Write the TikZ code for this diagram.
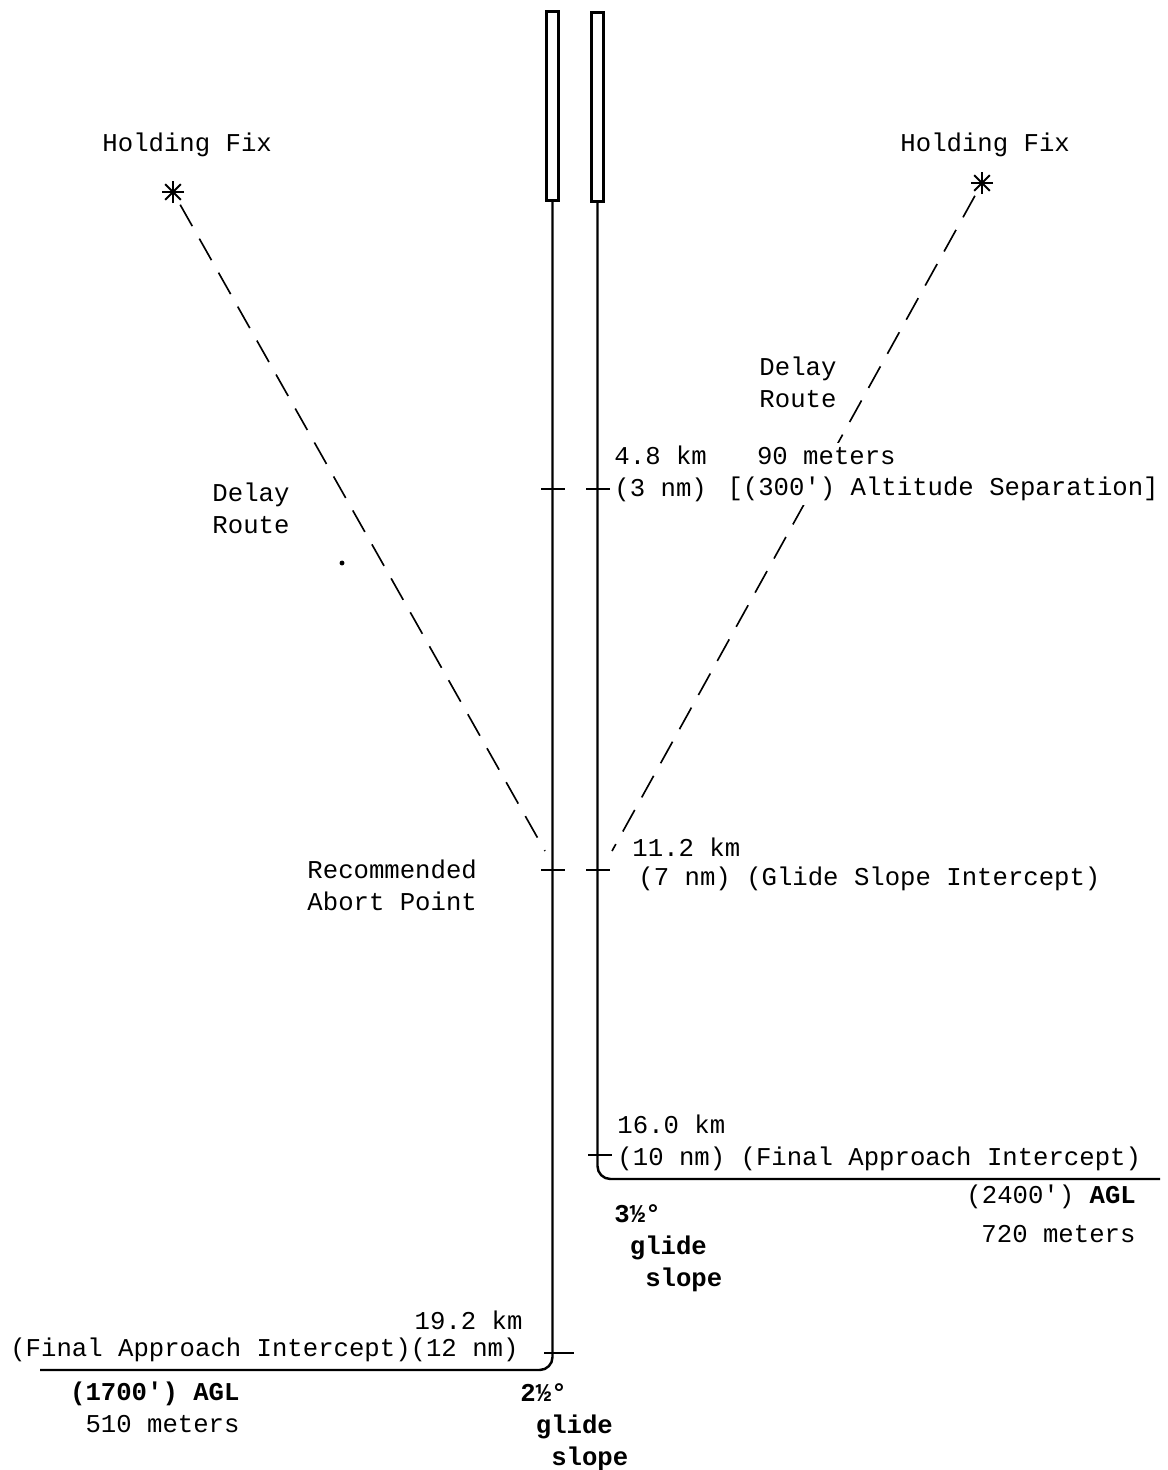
\documentclass[tikz,border=0pt]{standalone}
\usepackage{fontspec}
\setmonofont{Liberation Mono}
\usetikzlibrary{positioning}

\begin{document}
\begin{tikzpicture}[x=0.017123cm,y=-0.017123cm,font=\ttfamily\fontsize{12.5}{15.5}\selectfont]
  \tikzstyle{rwy}=[rectangle,draw,line width=1.2pt,inner sep=0pt,minimum width=0.21cm,minimum height=3.24cm]
  \tikzstyle{approach}=[line width=1.2pt,rounded corners=0.22cm]
  \tikzstyle{delay}=[line width=0.8pt,dash pattern=on 12pt off 7pt,shorten <=0.25cm]
  \tikzstyle{tick}=[line width=1pt]
  \tikzstyle{lbl}=[inner sep=1pt,anchor=west,align=left]
  \tikzstyle{mask}=[lbl,fill=white,inner sep=2pt]
  \tikzstyle{slope}=[lbl,font=\ttfamily\bfseries\fontsize{12.5}{15.5}\selectfont]
  \useasboundingbox (0,0) rectangle (1168,1470);
  % runways and approach paths
  \node[rwy] (rwyL) at (552.5,106) {};
  \node[rwy] (rwyR) at (597.5,107) {};
  \coordinate (endL) at (40,1370);
  \coordinate (endR) at (1160,1179);
  \draw[approach] (rwyL.south) |- (endL);
  \draw[approach] (rwyR.south) |- (endR);
  % distance ticks
  \foreach \y in {489,870} {
    \draw[tick] (541,\y) -- (565,\y);
    \draw[tick] (586,\y) -- (610,\y);
  }
  \draw[tick] (588,1155) -- (612,1155);
  \draw[tick] (544,1353) -- (574,1353);
  % holding fixes and delay routes
  \coordinate (fixL) at (173,192);
  \coordinate (fixR) at (982,183);
  \foreach \f in {fixL,fixR}
    \foreach \a in {0,45,90,135}
      \draw[line width=1pt] (\f) ++(\a:11) -- ++(\a+180:22);
  \coordinate (abortL) at (545,851);
  \coordinate (abortR) at (612,851);
  \draw[delay] (fixL) -- (abortL);
  \draw[delay] (fixR) -- (abortR);
  \fill (342,563) circle (1.2pt);
  % labels
  \node[lbl] (holdL) at (100,145) {Holding Fix};
  \node[lbl] (holdR) at (898,145) {Holding Fix};
  \node[lbl] (routeR) at (757,382) {Delay\\Route};
  \node[lbl] (routeL) at (210,508) {Delay\\Route};
  \node[lbl] (mark3) at (612,474) {4.8 km\\(3 nm)};
  \node[mask] (sep) at (723,474) {\hspace*{1.15em}90 meters\\{[}(300') Altitude Separation{]}};
  \node[lbl] (km7) at (630,847) {11.2 km};
  \node[lbl] (gsi) at (636,879) {(7 nm) (Glide Slope Intercept)};
  \node[lbl] (abort) at (305,885) {Recommended\\Abort Point};
  \node[lbl] (mark10) at (615,1143) {16.0 km\\(10 nm) (Final Approach Intercept)};
  \node[lbl] (agl24) at (964,1197) {(2400') \textbf{AGL}};
  \node[lbl] (m720) at (979,1234) {720 meters};
  \node[slope] (gs35) at (612,1248) {3½°\\\hspace*{0.6em}glide\\\hspace*{1.2em}slope};
  \node[lbl,anchor=east] (km19) at (525,1320) {19.2 km};
  \node[lbl,anchor=east] (fai12) at (521,1350) {(Final Approach Intercept)(12 nm)};
  \node[lbl,anchor=east,align=right] (agl17) at (242,1407) {\textbf{(1700') AGL}\\510 meters};
  \node[slope] (gs25) at (518,1427) {2½°\\\hspace*{0.6em}glide\\\hspace*{1.2em}slope};
\end{tikzpicture}
\end{document}
